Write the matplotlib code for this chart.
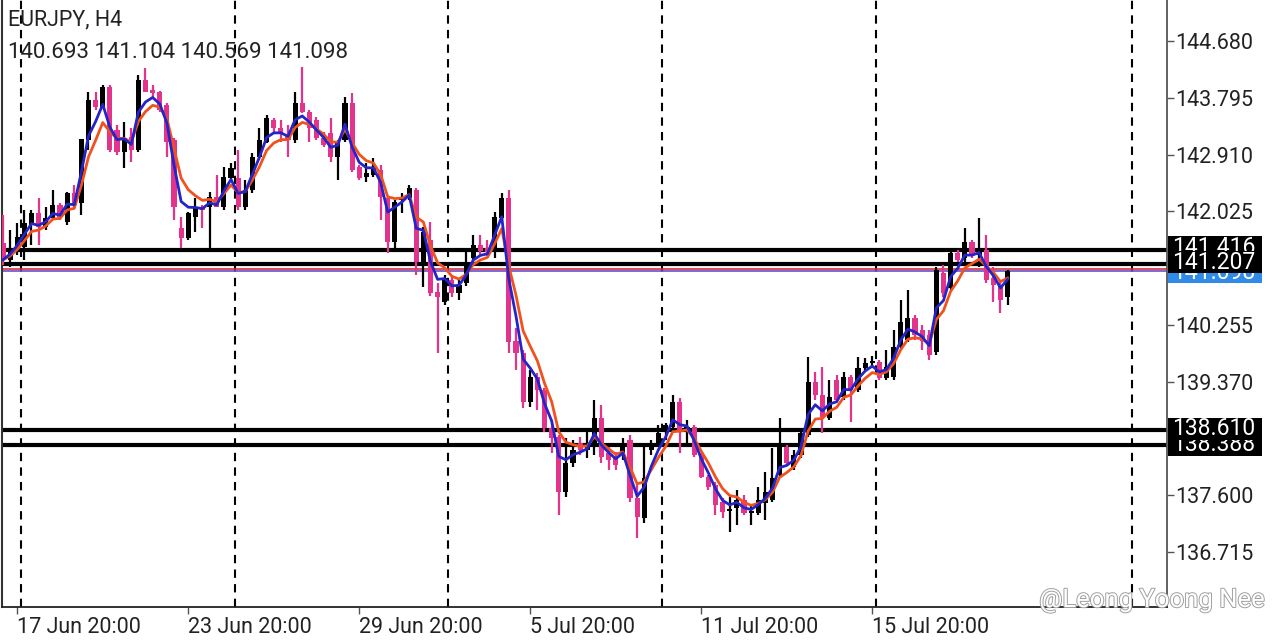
import matplotlib
matplotlib.use("Agg")
import matplotlib.pyplot as plt
import matplotlib.transforms as mtransforms
import matplotlib.patheffects as pe
from matplotlib.patches import Rectangle
import numpy as np
import pandas as pd

plt.rcParams['font.family'] = ['Roboto', 'DejaVu Sans']

# EURJPY H4, bars (oldest first)
opens = [141.53,141.26,141.42,141.47,141.81,142.00,141.78,141.92,142.12,141.86,
         142.31,142.15,143.14,143.76,143.65,143.96,143.29,142.95,143.18,142.98,
         144.07,143.92,143.89,143.68,143.14,141.76,141.61,141.94,142.08,142.09,
         142.25,142.09,142.55,142.55,142.09,142.36,142.87,143.11,143.45,143.32,
         143.21,143.14,143.71,143.57,143.45,143.17,143.25,142.87,143.14,143.71,
         142.72,142.56,142.59,142.67,142.23,141.55,142.20,142.23,142.36,141.24,
         141.58,140.77,140.61,140.95,140.75,140.91,141.30,141.50,141.45,141.42,
         141.92,142.23,140.00,139.82,139.05,139.44,139.24,138.65,138.51,137.65,
         138.10,138.41,138.31,138.41,138.80,138.26,138.20,138.23,138.46,137.56,
         137.24,138.31,138.41,138.62,138.66,139.05,138.62,138.66,138.23,137.88,
         137.76,137.49,137.35,137.40,137.53,137.32,137.32,137.48,137.53,137.91,
         138.35,138.04,138.23,138.54,139.36,139.16,138.80,139.40,139.13,139.44,
         139.24,139.58,139.66,139.68,139.43,139.44,139.91,140.02,140.36,140.18,
         140.10,139.83,141.06,140.83,141.38,141.30,141.55,141.34,141.42,140.99,
         140.88,140.693]
highs = [141.97,141.73,141.84,142.05,142.05,142.23,142.09,142.36,142.15,142.33,
         142.44,143.15,143.89,143.89,143.99,143.99,143.37,143.42,143.32,144.15,
         144.26,143.99,143.90,143.71,143.17,141.94,142.01,142.23,142.12,142.33,
         142.59,142.72,142.78,142.98,142.51,142.93,143.32,143.53,143.48,143.45,
         143.37,143.89,144.27,143.60,143.50,143.26,143.48,143.14,143.81,143.87,
         142.75,142.78,142.86,142.75,142.25,142.20,142.31,142.44,142.39,141.78,
         141.86,140.91,141.03,141.00,140.95,141.42,141.66,141.66,141.58,142.01,
         142.31,142.36,140.21,139.86,139.55,139.50,139.27,138.77,138.54,138.49,
         138.46,138.51,138.62,139.08,139.01,138.35,138.27,138.49,138.54,137.79,
         138.41,138.46,138.69,138.73,139.16,139.12,138.77,138.69,138.26,137.91,
         137.81,137.56,137.57,137.68,137.60,137.45,137.73,137.96,138.34,138.80,
         138.38,138.31,138.65,139.75,139.52,139.60,139.40,139.47,139.52,139.47,
         139.75,139.74,139.77,139.71,139.86,140.18,140.64,140.80,140.41,140.25,
         140.18,141.16,141.19,141.42,141.42,141.77,141.58,141.92,141.66,141.16,
         140.95,141.104]
lows = [141.19,141.16,141.34,141.27,141.50,141.50,141.73,141.89,141.89,141.81,
        142.08,141.97,142.98,143.61,143.64,142.95,142.90,142.70,142.79,142.95,
        143.89,143.81,143.57,142.87,141.89,141.45,141.58,141.70,141.77,141.42,
        142.09,142.05,142.51,142.05,142.05,142.31,142.83,143.09,143.26,143.11,
        142.87,143.09,143.56,143.11,143.14,143.03,142.79,142.51,143.11,142.64,
        142.51,142.48,142.56,141.89,141.38,141.39,142.00,142.20,141.03,140.85,
        140.70,139.82,140.57,140.69,140.64,140.86,141.24,141.33,141.33,141.30,
        141.89,139.82,139.55,138.96,138.97,138.93,138.59,138.26,137.29,137.57,
        138.04,138.23,138.18,138.23,138.10,137.99,137.99,138.15,137.49,136.93,
        137.17,138.23,138.35,138.46,138.62,138.26,138.41,138.20,137.87,137.68,
        137.29,137.24,137.03,137.14,137.29,137.14,137.29,137.21,137.49,137.87,
        138.07,137.99,138.18,138.51,139.09,138.57,138.77,139.05,139.09,138.74,
        139.21,139.55,139.61,139.40,139.40,139.40,139.86,139.99,140.02,139.86,
        139.71,139.79,140.69,140.80,141.24,141.24,141.30,141.16,140.91,140.61,
        140.44,140.569]
closes = [141.27,141.45,141.63,141.84,142.00,141.78,141.92,142.12,141.94,142.31,
          142.12,143.15,143.76,143.65,143.96,142.98,142.95,143.17,142.98,144.07,
          143.89,143.87,143.60,143.11,142.09,141.61,142.00,142.08,142.05,142.25,
          142.09,142.56,142.70,142.09,142.36,142.87,143.14,143.48,143.32,143.25,
          143.14,143.71,143.57,143.32,143.17,143.06,142.87,143.09,143.71,142.67,
          142.55,142.62,142.70,142.25,141.55,142.17,142.25,142.39,141.24,141.70,
          140.75,140.69,140.99,140.75,140.88,141.19,141.50,141.41,141.39,141.94,
          142.23,139.99,139.82,139.05,139.44,139.24,138.65,138.49,137.65,138.10,
          138.31,138.31,138.38,138.80,138.20,138.15,138.07,138.35,137.56,137.26,
          137.87,138.38,138.57,138.70,139.05,138.62,138.66,138.23,137.88,137.73,
          137.45,137.34,137.38,137.53,137.32,137.35,137.53,137.65,137.87,138.35,
          138.10,138.23,138.57,139.36,139.16,138.82,139.13,139.09,139.44,139.24,
          139.58,139.66,139.69,139.43,139.60,139.91,140.30,140.36,140.10,140.00,
          139.79,141.11,140.75,141.38,141.27,141.55,141.34,141.42,140.95,140.88,
          140.64,141.098]

date_labels = ["17 Jun 20:00", "23 Jun 20:00", "29 Jun 20:00", "5 Jul 20:00",
               "11 Jul 20:00", "15 Jul 20:00"]
date_bars = [2, 26, 50, 74, 98, 122]
week_lines = [2.5, 32.5, 62.5, 92.5, 122.5, 158.5]

price_ticks = [144.680, 143.795, 142.910, 142.025, 140.255, 139.370, 137.600, 136.715]
levels = [141.416, 141.207, 138.610, 138.388]
bid = 141.098
ask = 141.125

symbol = "EURJPY, H4"

o = np.array(opens); h = np.array(highs); l = np.array(lows); c = np.array(closes)
x = np.arange(len(o))

ma_fast = pd.Series(c).ewm(span=3, adjust=False).mean()
ma_slow = pd.Series(c).ewm(span=5, adjust=False).mean()

BULL = "#000000"
BEAR = "#e2338d"

fig = plt.figure(figsize=(12.8, 6.4), dpi=100)
ax = fig.add_axes([2/1280, 33/640, 1165/1280, 607/640])

# vertical weekly separators
for w in week_lines:
    ax.axvline(w, color="black", lw=1.5, ls=(0, (4, 3)), zorder=1)

# horizontal levels
for lv in levels:
    ax.axhline(lv, color="black", lw=3, zorder=2)
ax.axhline(ask, color="#d4303c", lw=1.2, zorder=2)
ax.axhline(bid, color="#6a4fc8", lw=1.2, zorder=2)

# candles
up = c >= o
cols = np.where(up, BULL, BEAR)
ax.vlines(x, l, h, colors=cols, lw=1.6, zorder=3)
body_lo = np.minimum(o, c)
body_h = np.maximum(np.abs(c - o), 0.03)
ax.bar(x, body_h, bottom=body_lo, width=0.72, color=cols, zorder=4, linewidth=0)

# moving averages
ax.plot(x, ma_slow, color="#f0521e", lw=2, zorder=5)
ax.plot(x, ma_fast, color="#2424c8", lw=2, zorder=6)

ax.set_xlim(-0.14, 163.37)
ax.set_ylim(135.858, 145.319)

ax.spines["top"].set_visible(False)
ax.spines["left"].set_color("#333333")
ax.spines["right"].set_color("#555555")
ax.spines["bottom"].set_color("#222222")
ax.spines["left"].set_linewidth(1.5)
ax.spines["right"].set_linewidth(1.3)
ax.spines["bottom"].set_linewidth(1.3)

ax.yaxis.tick_right()
ax.set_yticks(price_ticks)
ax.set_yticklabels(["%.3f" % p for p in price_ticks])
ax.tick_params(axis="y", direction="out", length=5, width=1, color="#555555",
               labelsize=15.5, labelcolor="#222222", pad=1)
ax.set_xticks(date_bars)
ax.set_xticklabels(date_labels, ha="left")
ax.tick_params(axis="x", direction="out", length=5, width=1, color="#555555",
               labelsize=15.5, labelcolor="#222222", pad=2)

# price boxes on the right scale, later ones cover earlier ones
tr = mtransforms.blended_transform_factory(fig.transFigure, ax.transData)
box_h = 22 / 64.16
z = [10]
def price_box(val, yc, color):
    r = Rectangle((1168/1280, yc - box_h/2), 94/1280, box_h, transform=tr,
                  facecolor=color, edgecolor="none", clip_on=False, zorder=z[0])
    fig.patches.append(r)
    fig.text(1214/1280, yc, "%.3f" % val, transform=tr, ha="center", va="center",
             color="white", fontsize=16.5, zorder=z[0] + 1)
    z[0] += 2

price_box(141.416, 141.462, "#000000")
price_box(bid, 141.075, "#2f8ae8")
price_box(141.207, 141.228, "#000000")
price_box(138.388, 138.390, "#000000")
price_box(138.610, 138.640, "#000000")

# header
fig.text(8/1280, 1 - 20/640, symbol, ha="left", va="center", fontsize=15.5, color="#222222")
fig.text(8/1280, 1 - 52/640, "%.3f %.3f %.3f %.3f" % (o[-1], h[-1], l[-1], c[-1]),
         ha="left", va="center", fontsize=16, color="#222222")

# watermark
fig.text(1265/1280, 1 - 600/640, "@Leong Yoong Nee", ha="right", va="center",
         fontsize=18.5, color="white",
         path_effects=[pe.withStroke(linewidth=1.4, foreground="#a0a0a0")])

fig.savefig("out.png", dpi=100, facecolor="white")
